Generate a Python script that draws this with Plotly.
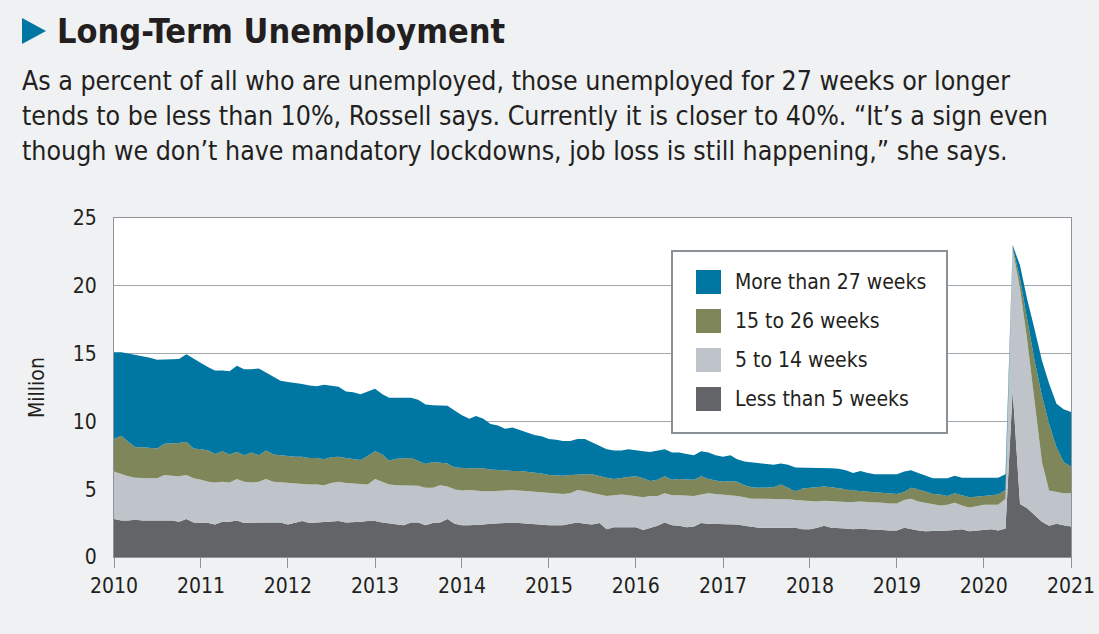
import pandas as pd
import plotly.graph_objects as go

# Monthly observations, Jan 2010 .. Jan 2021 (millions of people)
months = pd.date_range("2010-01-01", "2021-01-01", freq="MS")

less_than_5 = [
    2.8, 2.7, 2.7, 2.75, 2.7, 2.7, 2.7, 2.7, 2.7, 2.6, 2.8, 2.55,
    2.55, 2.5, 2.4, 2.6, 2.6, 2.7, 2.5, 2.55, 2.55, 2.55, 2.55, 2.55,
    2.4, 2.5, 2.65, 2.5, 2.55, 2.55, 2.6, 2.65, 2.55, 2.55, 2.6, 2.65,
    2.65, 2.55, 2.5, 2.45, 2.35, 2.55, 2.55, 2.35, 2.5, 2.55, 2.8, 2.45,
    2.35, 2.35, 2.35, 2.4, 2.45, 2.45, 2.5, 2.55, 2.5, 2.45, 2.4, 2.35,
    2.35, 2.35, 2.35, 2.45, 2.55, 2.45, 2.4, 2.5, 2.05, 2.2, 2.2, 2.2,
    2.2, 2.0, 2.15, 2.3, 2.55, 2.35, 2.3, 2.2, 2.25, 2.5, 2.45, 2.45,
    2.45, 2.45, 2.4, 2.3, 2.2, 2.15, 2.15, 2.15, 2.2, 2.2, 2.15, 2.05,
    2.05, 2.15, 2.3, 2.15, 2.15, 2.1, 2.05, 2.1, 2.05, 2.05, 2.0, 1.95,
    1.95, 2.15, 2.05, 1.95, 1.9, 1.9, 1.95, 1.95, 2.0, 2.05, 1.9, 1.95,
    1.95, 2.05, 1.95, 2.1, 12.3, 3.9, 3.6, 3.1, 2.6, 2.3, 2.45, 2.35,
    2.25,
]
weeks_5_to_14 = [
    3.5, 3.4, 3.25, 3.1, 3.1, 3.1, 3.1, 3.35, 3.3, 3.35, 3.25, 3.25,
    3.15, 3.05, 3.1, 2.95, 2.9, 3.05, 3.05, 2.95, 3.0, 3.2, 3.0, 2.95,
    3.1, 2.95, 2.75, 2.85, 2.8, 2.75, 2.85, 2.9, 2.9, 2.85, 2.75, 2.7,
    3.1, 3.0, 2.85, 2.85, 2.95, 2.7, 2.7, 2.75, 2.6, 2.75, 2.4, 2.55,
    2.55, 2.6, 2.55, 2.45, 2.4, 2.4, 2.4, 2.4, 2.4, 2.4, 2.45, 2.45,
    2.4, 2.35, 2.3, 2.25, 2.4, 2.4, 2.3, 2.1, 2.45, 2.35, 2.4, 2.35,
    2.3, 2.4, 2.35, 2.2, 2.15, 2.2, 2.25, 2.3, 2.25, 2.1, 2.25, 2.2,
    2.15, 2.1, 2.1, 2.1, 2.1, 2.15, 2.15, 2.15, 2.05, 2.05, 2.05, 2.1,
    2.05, 1.95, 1.85, 1.95, 1.9, 1.95, 2.0, 2.0, 2.0, 2.0, 2.0, 2.0,
    2.0, 2.05, 2.25, 2.15, 2.1, 2.05, 1.85, 1.9, 2.0, 1.75, 1.75, 1.8,
    1.9, 1.8, 1.9, 2.2, 10.4, 15.9, 12.4, 8.4, 4.4, 2.6, 2.35, 2.35,
    2.45,
]
weeks_15_to_26 = [
    2.4, 2.85, 2.55, 2.25, 2.3, 2.25, 2.2, 2.3, 2.35, 2.45, 2.45, 2.2,
    2.25, 2.3, 2.1, 2.25, 2.05, 2.0, 1.95, 2.2, 1.95, 2.1, 2.0, 2.0,
    1.9, 1.95, 2.0, 1.95, 1.95, 1.9, 1.9, 1.85, 1.85, 1.8, 1.8, 2.1,
    2.05, 2.0, 1.75, 1.95, 2.0, 2.05, 1.85, 1.75, 1.9, 1.65, 1.7, 1.6,
    1.65, 1.6, 1.65, 1.7, 1.6, 1.55, 1.5, 1.4, 1.45, 1.45, 1.4, 1.35,
    1.3, 1.3, 1.35, 1.35, 1.15, 1.25, 1.4, 1.35, 1.35, 1.2, 1.25, 1.35,
    1.45, 1.4, 1.1, 1.2, 1.25, 1.15, 1.2, 1.25, 1.2, 1.35, 1.05, 1.0,
    0.95, 1.05, 1.05, 0.9, 0.85, 0.8, 0.8, 0.85, 1.1, 0.85, 0.65, 0.9,
    1.0, 1.0, 1.05, 1.05, 1.05, 0.95, 0.85, 0.75, 0.8, 0.7, 0.7, 0.7,
    0.7, 0.6, 0.8, 0.9, 0.85, 0.7, 0.8, 0.65, 0.7, 0.75, 0.75, 0.7,
    0.65, 0.75, 0.75, 0.65, 0.2, 0.7, 1.5, 3.0, 4.9, 4.9, 3.3, 2.3,
    1.95,
]
more_than_27 = [
    6.4, 6.15, 6.5, 6.8, 6.75, 6.65, 6.55, 6.2, 6.2, 6.2, 6.45, 6.6,
    6.35, 6.15, 6.15, 5.95, 6.15, 6.35, 6.35, 6.15, 6.4, 5.75, 5.75, 5.5,
    5.5, 5.45, 5.35, 5.35, 5.3, 5.5, 5.25, 5.15, 4.9, 4.95, 4.85, 4.75,
    4.6, 4.45, 4.65, 4.5, 4.45, 4.45, 4.5, 4.4, 4.2, 4.25, 4.25, 4.2,
    3.9, 3.65, 3.85, 3.65, 3.35, 3.3, 3.05, 3.2, 3.0, 2.9, 2.75, 2.75,
    2.65, 2.65, 2.55, 2.5, 2.6, 2.6, 2.35, 2.25, 2.1, 2.1, 2.0, 2.05,
    1.9, 2.0, 2.15, 2.15, 2.0, 2.0, 1.95, 1.85, 1.8, 1.85, 1.95, 1.85,
    1.85, 1.9, 1.65, 1.75, 1.85, 1.8, 1.75, 1.65, 1.55, 1.7, 1.75, 1.55,
    1.5, 1.5, 1.35, 1.4, 1.4, 1.4, 1.3, 1.5, 1.35, 1.35, 1.4, 1.45,
    1.45, 1.5, 1.3, 1.2, 1.15, 1.15, 1.2, 1.3, 1.3, 1.3, 1.45, 1.4,
    1.3, 1.25, 1.25, 1.15, 0.1, 1.0, 1.5, 2.3, 2.6, 3.0, 3.2, 3.9,
    4.05,
]

series_names = ["Less than 5 weeks", "5 to 14 weeks", "15 to 26 weeks", "More than 27 weeks"]
series_values = [less_than_5, weeks_5_to_14, weeks_15_to_26, more_than_27]
series_colors = ["#636467", "#bec4ca", "#7f865a", "#0076a3"]

y_ticks = [0, 5, 10, 15, 20, 25]
x_tick_years = list(range(2010, 2022))

title_text = "Long-Term Unemployment"
subtitle_lines = [
    "As a percent of all who are unemployed, those unemployed for 27 weeks or longer",
    "tends to be less than 10%, Rossell says. Currently it is closer to 40%. \u201cIt\u2019s a sign even",
    "though we don\u2019t have mandatory lockdowns, job loss is still happening,\u201d she says.",
]

FONT = "DejaVu Sans Condensed, Roboto, sans-serif"
W, H = 1099, 634
ML, MR, MT, MB = 114, 28, 218, 77
PW, PH = W - ML - MR, H - MT - MB


def px(x):
    return (x - ML) / PW


def py(y):
    return (H - MB - y) / PH


fig = go.Figure()
for name, vals, col in zip(series_names, series_values, series_colors):
    fig.add_trace(go.Scatter(
        x=months, y=vals, name=name, stackgroup="one", mode="lines",
        line=dict(width=0, color=col), fillcolor=col, showlegend=False,
        hovertemplate="%{x|%b %Y}: %{y}M<extra>" + name + "</extra>",
    ))

axis_grey = "#8e9499"
fig.update_layout(
    width=W, height=H,
    margin=dict(l=ML, r=MR, t=MT, b=MB, autoexpand=False),
    paper_bgcolor="#eff1f3",
    plot_bgcolor="#ffffff",
    font=dict(family=FONT, color="#231f20"),
    xaxis=dict(
        range=["2010-01-01", "2021-01-01"], automargin=False,
        tickvals=[f"{y}-01-01" for y in x_tick_years],
        ticktext=[str(y) for y in x_tick_years],
        ticks="outside", ticklen=10, tickcolor=axis_grey, tickwidth=1,
        showline=True, linecolor=axis_grey, linewidth=1, mirror=True,
        showgrid=False, zeroline=False,
        tickfont=dict(size=21, family=FONT, color="#231f20"),
    ),
    yaxis=dict(
        range=[0, 25], automargin=False,
        tickvals=y_ticks, ticktext=[str(v) for v in y_ticks],
        showgrid=True, gridcolor="#a3a8ad", gridwidth=1,
        showline=True, linecolor=axis_grey, linewidth=1, mirror=True,
        zeroline=False, ticks="", ticklabelstandoff=12,
        tickfont=dict(size=21, family=FONT, color="#231f20"),
        title=dict(text="Million", standoff=22,
                   font=dict(size=21, family=FONT, color="#231f20")),
        layer="below traces",
    ),
)

ann = []
shapes = []
# Title triangle
shapes.append(dict(type="path", xref="paper", yref="paper",
                   path=f"M {px(22)} {py(18)} L {px(46)} {py(31)} L {px(22)} {py(44)} Z",
                   fillcolor="#0076a3", line=dict(width=0)))
ann.append(dict(text="<b>" + title_text + "</b>", x=px(55), y=py(31), xref="paper", yref="paper",
                xanchor="left", yanchor="middle", showarrow=False,
                font=dict(size=34, family=FONT, color="#231f20")))
for i, line in enumerate(subtitle_lines):
    ann.append(dict(text=line, x=px(20), y=py(80 + 35 * i), xref="paper", yref="paper",
                    xanchor="left", yanchor="middle", showarrow=False,
                    font=dict(size=26.5, family=FONT, color="#231f20")))

# Legend box
shapes.append(dict(type="rect", xref="paper", yref="paper",
                   x0=px(672), x1=px(947), y0=py(251), y1=py(433),
                   fillcolor="#ffffff", line=dict(color="#8a9297", width=2), layer="above"))
legend_order = [3, 2, 1, 0]
for row, idx in enumerate(legend_order):
    yc = 282 + 39 * row
    shapes.append(dict(type="rect", xref="paper", yref="paper",
                       x0=px(696), x1=px(721), y0=py(yc - 12), y1=py(yc + 12),
                       fillcolor=series_colors[idx], line=dict(width=0), layer="above"))
    ann.append(dict(text=series_names[idx], x=px(733), y=py(yc), xref="paper", yref="paper",
                    xanchor="left", yanchor="middle", showarrow=False,
                    font=dict(size=21, family=FONT, color="#231f20")))

fig.update_layout(annotations=ann, shapes=shapes)
fig.write_html("out.html", config={"displayModeBar": False},
               post_script="document.body.style.margin='0';")
